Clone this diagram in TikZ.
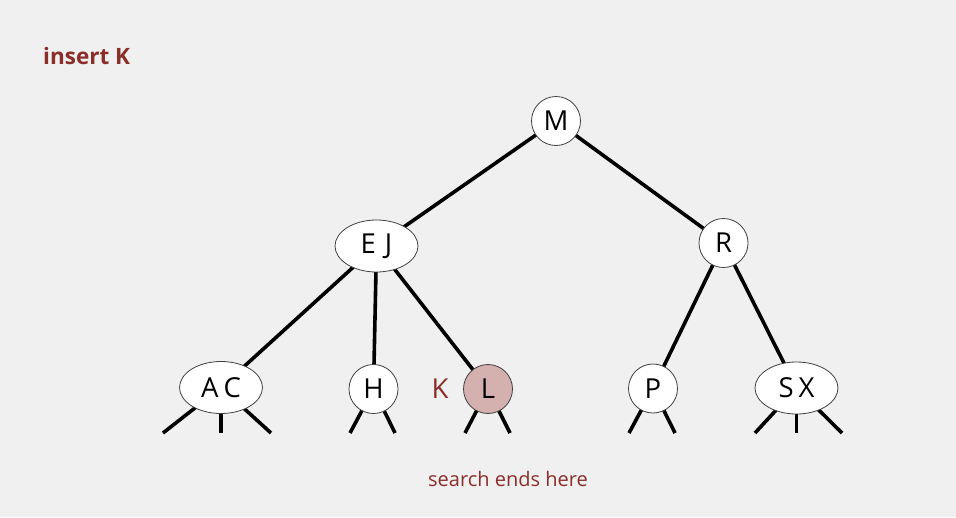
\documentclass[tikz,border=0pt]{standalone}
\usepackage{fontspec}
\setmainfont{Open Sans}
\usetikzlibrary{shapes.geometric}
\definecolor{bgc}{HTML}{F0F0F0}
\definecolor{dred}{HTML}{8B2E2A}
\definecolor{lfill}{HTML}{D4B0AE}
\tikzset{
  one/.style={circle,draw=black!75,line width=0.8pt,fill=white,minimum size=49pt,inner sep=0pt,font=\fontsize{27.5}{27.5}\selectfont},
  two/.style={ellipse,draw=black!75,line width=0.8pt,fill=white,minimum width=83pt,minimum height=52pt,inner sep=0pt,font=\fontsize{27.5}{27.5}\selectfont},
  link/.style={line width=3.6pt,black},
  lbl/.style={text=dred}
}
\begin{document}
\begin{tikzpicture}[x=1pt,y=-1pt]
\fill[bgc] (0,0) rectangle (956,517);
\useasboundingbox (0,0) rectangle (956,517);
\node[lbl,anchor=base west,inner sep=0pt,font=\fontsize{22.5}{22.5}\selectfont\bfseries] (title) at (43,64) {insert K};
% links first
\coordinate (m) at (556,121);
\coordinate (ej) at (376.5,246);
\coordinate (r) at (723.5,243);
\coordinate (ac) at (221,387.5);
\coordinate (h) at (373.5,389);
\coordinate (l) at (488,389);
\coordinate (p) at (653,388.5);
\coordinate (sx) at (796.5,388);
\draw[link] (m) -- (ej);
\draw[link] (m) -- (r);
\draw[link] (ej) -- (ac);
\draw[link] (ej) -- (h);
\draw[link] (ej) -- (l);
\draw[link] (r) -- (p);
\draw[link] (r) -- (sx);
% stubs
\coordinate (ac1) at (163,433); \coordinate (ac2) at (221,433); \coordinate (ac3) at (271,433);
\coordinate (h1) at (350,433); \coordinate (h2) at (395,433);
\coordinate (l1) at (465,433); \coordinate (l2) at (510,433);
\coordinate (p1) at (629,433); \coordinate (p2) at (675,433);
\coordinate (sx1) at (755,433); \coordinate (sx2) at (796.5,433); \coordinate (sx3) at (842,433);
\draw[link] (ac) -- (ac1); \draw[link] (ac) -- (ac2); \draw[link] (ac) -- (ac3);
\draw[link] (h) -- (h1); \draw[link] (h) -- (h2);
\draw[link] (l) -- (l1); \draw[link] (l) -- (l2);
\draw[link] (p) -- (p1); \draw[link] (p) -- (p2);
\draw[link] (sx) -- (sx1); \draw[link] (sx) -- (sx2); \draw[link] (sx) -- (sx3);
% nodes
\node[one] (M) at (m) {M};
\node[two] (EJ) at (ej) {E\hspace{9pt}J};
\node[one] (R) at (r) {R};
\node[two] (AC) at (ac) {A\hspace{5pt}C};
\node[one] (H) at (h) {H};
\node[one,fill=lfill] (L) at (l) {L};
\node[one] (P) at (p) {P};
\node[two] (SX) at (sx) {S\hspace{5pt}X};
\node[lbl,font=\fontsize{27.5}{27.5}\selectfont] (K) at (440,389) {K};
\node[lbl,font=\fontsize{20}{20}\selectfont] (note) at (508,479) {search ends here};
\end{tikzpicture}
\end{document}
